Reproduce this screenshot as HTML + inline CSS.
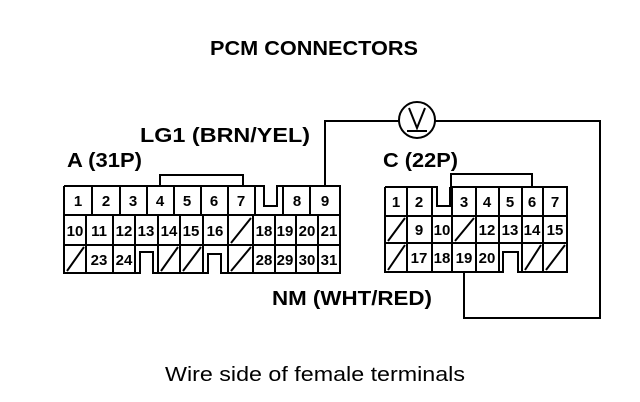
<!DOCTYPE html>
<html><head><style>
body{margin:0;background:#fff;}
svg{display:block}
text{font-family:"Liberation Sans",sans-serif;fill:#000}
.b{font-weight:bold;font-size:20px}
</style></head><body>
<svg width="640" height="402" viewBox="0 0 640 402" xmlns="http://www.w3.org/2000/svg">
<g fill="none" stroke="#000" stroke-width="2">
<path d="M64 186 H255 M283 186 H340 V273 H64 V186"/>
<path d="M255 186 H264 V206 H277 V186 H283"/>
<path d="M160 186 V175 H243 V186"/>
<path d="M64 215 H340 M64 245 H340"/>
<path d="M92 186V215 M120 186V215 M147 186V215 M174 186V215 M201 186V215 M228 186V215 M255 186V215 M283 186V215 M310 186V215"/>
<path d="M86 215V273 M113 215V273 M135 215V273 M158 215V273 M180 215V273 M203 215V273 M228 215V273 M253 215V273 M275 215V273 M296 215V273 M318 215V273"/>
<path d="M231 243 L251 218 M67 271 L84 247 M161 271 L178 247 M183 271 L201 247 M231 271 L251 247"/>
<path d="M325 186 V121 H399 M435 121 H600 V318 H464 V272"/>
<circle cx="417" cy="120" r="18"/>
<path d="M409 108 L417 128 L425 108 M407 131 H427"/>
<path d="M385 187 H432 M450 187 H567 V272 H385 V187"/>
<path d="M432 187 H437 V206 H450 V187"/>
<path d="M451 187 V174 H532 V187"/>
<path d="M385 216 H567 M385 243 H567"/>
<path d="M407 187V272 M432 187V272 M452 187V272 M476 187V272 M499 187V272 M522 187V272 M543 187V272"/>
<path d="M388 241 L405 218 M455 241 L474 218 M388 270 L405 245 M525 270 L541 245 M546 270 L565 245"/>
</g>
<g fill="#fff" stroke="none">
<rect x="500" y="253" width="17" height="20"/>
<rect x="141" y="253" width="11" height="21"/>
<rect x="209" y="255" width="11" height="19"/>
</g>
<g fill="none" stroke="#000" stroke-width="2">
<path d="M135 273 H140 V252 H153 V273 H158 M203 273 H208 V254 H221 V273 H228"/>
<path d="M499 272 H503 V252 H518 V272 H522"/>
</g>
<text class="b" x="210" y="55" textLength="208" lengthAdjust="spacingAndGlyphs">PCM CONNECTORS</text>
<text class="b" x="140" y="142" textLength="170" lengthAdjust="spacingAndGlyphs">LG1 (BRN/YEL)</text>
<text class="b" x="67" y="167" textLength="75" lengthAdjust="spacingAndGlyphs">A (31P)</text>
<text class="b" x="383" y="167" textLength="75" lengthAdjust="spacingAndGlyphs">C (22P)</text>
<text class="b" x="272" y="305" textLength="160" lengthAdjust="spacingAndGlyphs">NM (WHT/RED)</text>
<text x="165" y="381" style="font-size:20px" textLength="300" lengthAdjust="spacingAndGlyphs">Wire side of female terminals</text>
<g text-anchor="middle" font-size="15" font-weight="bold">
<text x="78" y="206">1</text><text x="106" y="206">2</text><text x="133" y="206">3</text><text x="160" y="206">4</text><text x="187" y="206">5</text><text x="214" y="206">6</text><text x="241" y="206">7</text><text x="297" y="206">8</text><text x="325" y="206">9</text>
<text x="75" y="236">10</text><text x="99" y="236">11</text><text x="124" y="236">12</text><text x="146" y="236">13</text><text x="169" y="236">14</text><text x="191" y="236">15</text><text x="215" y="236">16</text><text x="264" y="236">18</text><text x="285" y="236">19</text><text x="307" y="236">20</text><text x="329" y="236">21</text>
<text x="99" y="265">23</text><text x="124" y="265">24</text><text x="264" y="265">28</text><text x="285" y="265">29</text><text x="307" y="265">30</text><text x="329" y="265">31</text>
<text x="396" y="207">1</text><text x="419" y="207">2</text><text x="464" y="207">3</text><text x="487" y="207">4</text><text x="510" y="207">5</text><text x="532" y="207">6</text><text x="555" y="207">7</text>
<text x="419" y="235">9</text><text x="442" y="235">10</text><text x="487" y="235">12</text><text x="510" y="235">13</text><text x="532" y="235">14</text><text x="555" y="235">15</text>
<text x="419" y="263">17</text><text x="442" y="263">18</text><text x="464" y="263">19</text><text x="487" y="263">20</text>
</g>
</svg>
</body></html>
